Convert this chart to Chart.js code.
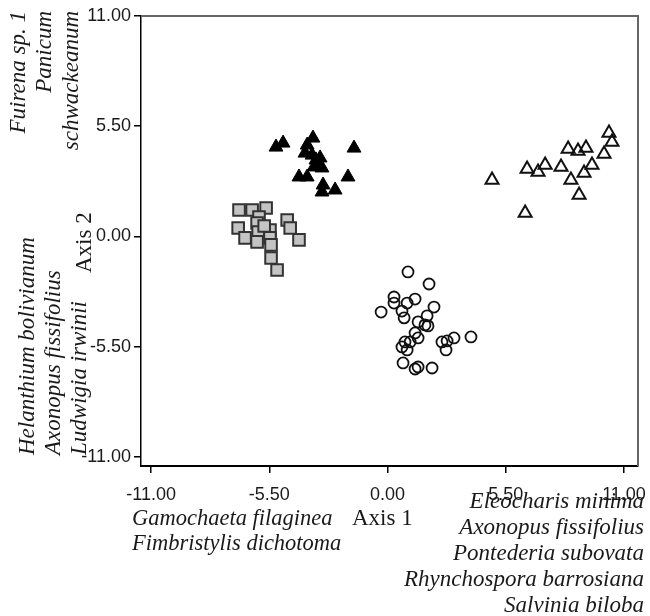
<!DOCTYPE html>
<html>
<head>
<meta charset="utf-8">
<script src="https://cdn.jsdelivr.net/npm/chart.js@4.4.1/dist/chart.umd.min.js"></script>
<style>
  html, body { margin: 0; padding: 0; background: #fff; }
  #wrap { width: 650px; height: 616px; }
</style>
</head>
<body>
<div id="wrap"><canvas id="ordination" width="650" height="616"></canvas></div>
<script>
// Sample scores on the first two ordination axes, one array per group
const groupA_x = [-5.19, -4.86, -3.47, -3.74, -3.84, -3.51, -3.33, -3.23, -3.42, -3.14, -3.05, -1.56, -4.12, -3.74, -1.84, -3.00, -3.05, -2.44];
const groupA_y = [4.46, 4.66, 4.91, 4.56, 4.16, 4.06, 3.82, 3.57, 3.47, 3.92, 3.42, 4.41, 2.97, 2.97, 2.97, 2.57, 2.22, 2.32];

const groupB_x = [-6.91, -6.30, -5.65, -5.98, -6.95, -6.07, -6.02, -5.47, -6.63, -6.07, -5.47, -5.42, -4.67, -4.53, -4.12, -5.42, -5.14, -5.74];
const groupB_y = [1.32, 1.32, 1.42, 0.97, 0.42, 0.67, 0.22, 0.32, -0.07, -0.27, -0.07, -0.42, 0.82, 0.42, -0.17, -1.07, -1.67, 0.52];

const groupC_x = [0.95, 1.93, 0.30, 0.30, 0.91, 1.28, 0.67, 0.77, -0.30, 2.16, 1.84, 1.42, 1.74, 1.88, 1.28, 1.42, 0.81, 1.05, 0.67, 0.91, 2.53, 2.77, 3.09, 2.72, 3.88, 0.72, 1.28, 1.42, 2.07];
const groupC_y = [-1.77, -2.37, -3.02, -3.32, -3.32, -3.12, -3.72, -4.06, -3.77, -3.52, -3.96, -4.26, -4.41, -4.46, -4.81, -5.06, -5.26, -5.26, -5.51, -5.66, -5.26, -5.21, -5.06, -5.66, -5.01, -6.31, -6.61, -6.51, -6.56];

const groupD_x = [10.30, 10.44, 8.40, 8.86, 9.23, 10.07, 6.49, 7.00, 7.33, 8.07, 9.51, 9.14, 8.53, 8.91, 4.86, 6.40];
const groupD_y = [5.16, 4.71, 4.36, 4.26, 4.41, 4.11, 3.37, 3.22, 3.57, 3.47, 3.57, 3.17, 2.82, 2.07, 2.82, 1.17];

const xTicks = [-11, -5.5, 0, 5.5, 11];
const yTicks = [-11, -5.5, 0, 5.5, 11];

// Species correlated with each end of the axes
const axis2Top = ['Fuirena sp. 1', 'Panicum', 'schwackeanum'];
const axis2Bottom = ['Helanthium bolivianum', 'Axonopus fissifolius', 'Ludwigia irwinii'];
const axis1Left = ['Gamochaeta filaginea', 'Fimbristylis dichotoma'];
const axis1Right = ['Eleocharis minima', 'Axonopus fissifolius', 'Pontederia subovata', 'Rhynchospora barrosiana', 'Salvinia biloba'];

const toPoints = (xs, ys) => xs.map((x, i) => ({ x: x, y: ys[i] }));

const SERIF = '"Liberation Serif", "Times New Roman", serif';
const SANS = '"Liberation Sans", Arial, sans-serif';

// Frame on the top and right, plus species names around the plot
const annotations = {
  id: 'annotations',
  afterDraw(chart) {
    const ctx = chart.ctx;
    const a = chart.chartArea;
    ctx.save();

    ctx.strokeStyle = '#666';
    ctx.lineWidth = 2;
    ctx.beginPath();
    ctx.moveTo(a.left, a.top);
    ctx.lineTo(a.right, a.top);
    ctx.lineTo(a.right, a.bottom);
    ctx.stroke();

    ctx.fillStyle = '#1a1a1a';
    ctx.textBaseline = 'alphabetic';

    // vertical names, reading upwards
    const vertical = (text, x, y, align, font) => {
      ctx.save();
      ctx.translate(x, y);
      ctx.rotate(-Math.PI / 2);
      ctx.font = font;
      ctx.textAlign = align;
      ctx.fillText(text, 0, 0);
      ctx.restore();
    };
    const italic = 'italic 23px ' + SERIF;
    const upright = '23px ' + SERIF;

    [25, 51, 78].forEach((x, i) => vertical(axis2Top[i], x, 11, 'right', italic));
    [34, 60, 86].forEach((x, i) => vertical(axis2Bottom[i], x, 455, 'left', italic));
    vertical('Axis 2', 91, 273, 'left', upright);

    ctx.font = 'italic 22.5px ' + SERIF;
    ctx.textAlign = 'left';
    axis1Left.forEach((t, i) => ctx.fillText(t, 132, 525 + i * 25));
    ctx.font = italic;
    ctx.textAlign = 'right';
    axis1Right.forEach((t, i) => ctx.fillText(t, 644, 508 + i * 26));

    ctx.font = upright;
    ctx.textAlign = 'left';
    ctx.fillText('Axis 1', 352, 525);

    ctx.restore();
  }
};

const fixTicks = values => scale => { scale.ticks = values.map(v => ({ value: v })); };

new Chart(document.getElementById('ordination').getContext('2d'), {
  type: 'scatter',
  data: {
    datasets: [
      {
        label: 'Group A',
        data: toPoints(groupA_x, groupA_y),
        pointStyle: 'triangle',
        pointRadius: 8,
        backgroundColor: '#000',
        borderColor: '#000',
        borderWidth: 1
      },
      {
        label: 'Group B',
        data: toPoints(groupB_x, groupB_y),
        pointStyle: 'rect',
        pointRadius: 8.2,
        backgroundColor: '#c4c4c4',
        borderColor: '#333',
        borderWidth: 2
      },
      {
        label: 'Group C',
        data: toPoints(groupC_x, groupC_y),
        pointStyle: 'circle',
        pointRadius: 5.5,
        backgroundColor: 'rgba(0,0,0,0)',
        borderColor: '#111',
        borderWidth: 1.8
      },
      {
        label: 'Group D',
        data: toPoints(groupD_x, groupD_y),
        pointStyle: 'triangle',
        pointRadius: 7.5,
        backgroundColor: 'rgba(0,0,0,0)',
        borderColor: '#111',
        borderWidth: 2
      }
    ]
  },
  options: {
    responsive: false,
    animation: false,
    devicePixelRatio: 1,
    layout: { padding: { top: 16, right: 12, left: 0, bottom: 0 } },
    plugins: {
      legend: { display: false },
      tooltip: { enabled: false }
    },
    scales: {
      x: {
        type: 'linear',
        min: -11.47,
        max: 11.65,
        afterBuildTicks: fixTicks(xTicks),
        afterFit: scale => {
          scale.height = 150;
          scale.paddingLeft = 0;
          scale.paddingRight = 0;
        },
        border: { color: '#000', width: 2 },
        grid: { drawOnChartArea: false, drawTicks: true, tickLength: 7, color: '#000', lineWidth: 1.5 },
        ticks: {
          padding: 11,
          color: '#1a1a1a',
          font: { family: SANS, size: 18 },
          maxRotation: 0,
          callback: v => v.toFixed(2)
        }
      },
      y: {
        type: 'linear',
        min: -11.45,
        max: 11,
        afterBuildTicks: fixTicks(yTicks),
        afterFit: scale => {
          scale.width = 141;
          scale.paddingTop = 0;
          scale.paddingBottom = 0;
        },
        border: { color: '#000', width: 1.5 },
        grid: { drawOnChartArea: false, drawTicks: true, tickLength: 7, color: '#000', lineWidth: 1.5 },
        ticks: {
          padding: 3,
          color: '#1a1a1a',
          font: { family: SANS, size: 18 },
          callback: v => v.toFixed(2)
        }
      }
    }
  },
  plugins: [annotations]
});
</script>
</body>
</html>
